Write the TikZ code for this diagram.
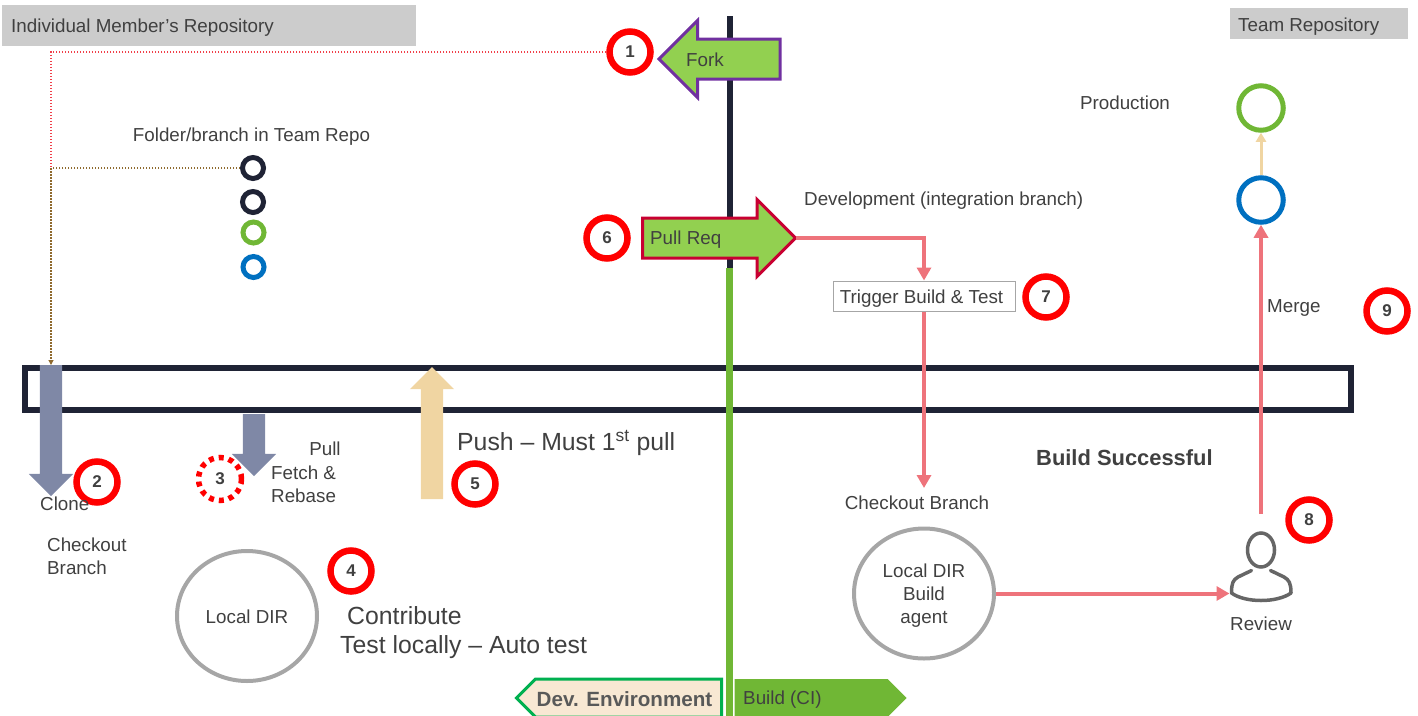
\documentclass[tikz,border=0pt]{standalone}
\usepackage{fontspec}
\setmainfont{Liberation Sans}
\usetikzlibrary{arrows.meta,shapes.arrows,shapes.geometric,shapes.symbols}
\definecolor{inkgrey}{HTML}{404040}
\definecolor{barnavy}{HTML}{1F2335}
\definecolor{ringred}{HTML}{FF0000}
\definecolor{leafgreen}{HTML}{70B735}
\definecolor{limefill}{HTML}{92D050}
\definecolor{teamblue}{HTML}{0070C0}
\definecolor{linkpink}{HTML}{EE737B}
\definecolor{slateblue}{HTML}{7F88A6}
\definecolor{creamtan}{HTML}{F0D5A2}
\definecolor{ringgrey}{HTML}{A6A6A6}
\definecolor{dotbrown}{HTML}{8F6A2E}
\definecolor{dotred}{HTML}{F0404A}
\tikzset{
  txt/.style={font=\fontsize{18.8}{23}\selectfont,text=inkgrey,inner sep=0pt,align=left,yshift=-1.5pt},
  bigtxt/.style={font=\fontsize{24.8}{30}\selectfont,text=inkgrey,inner sep=0pt,yshift=-1.5pt},
  numring/.style={circle,draw=ringred,line width=6.5pt,fill=white,minimum size=41pt,inner sep=0pt,
    font=\fontsize{17}{20}\bfseries\selectfont,text=inkgrey},
  numdash/.style={numring,line width=5.5pt,minimum size=43pt,dash pattern=on 5pt off 5pt},
  folderring/.style={circle,line width=5pt,minimum size=21pt,inner sep=0pt},
  teamring/.style={circle,line width=5pt,minimum size=44.5pt,inner sep=0pt},
  headerbox/.style={fill=black!20,inner sep=0pt},
  fatarrow/.style={single arrow,single arrow head extend=11pt,inner sep=11pt,outer sep=0pt,draw=none,anchor=tail},
  flagarrow/.style={single arrow,single arrow head extend=18.5pt,inner sep=18.5pt,outer sep=0pt,
    fill=limefill,line width=3pt,anchor=tail},
  localdir/.style={ellipse,draw=ringgrey,line width=4pt,minimum width=140pt,minimum height=130pt,
    inner sep=0pt,font=\fontsize{18.8}{23}\selectfont,text=inkgrey,align=center},
  pinkline/.style={draw=linkpink,line width=4pt,-{Triangle[length=13pt,width=14pt]}},
  dotline/.style={line width=1.1pt,dash pattern=on 1.5pt off 1.5pt},
}
\begin{document}
\begin{tikzpicture}[x=1pt,y=-1pt]
  \useasboundingbox (0,0) rectangle (1418,715);
  \node[headerbox,minimum width=414pt,minimum height=41pt] (memberhead) at (209,25.5) {};
  \node[txt,anchor=west] (membertxt) at (11,26) {Individual Member’s Repository};
  \node[headerbox,minimum width=178pt,minimum height=31pt] (teamhead) at (1319,23.5) {};
  \node[txt,anchor=west] (teamtxt) at (1238,25) {Team Repository};

  \node[draw=barnavy,line width=6pt,minimum width=1326pt,minimum height=42pt,inner sep=0pt] (barframe) at (688,389) {};
  \coordinate (midtop) at (729.5,16);
  \coordinate (midswitch) at (729.5,268);
  \coordinate (midend) at (729.5,716);
  \draw[barnavy,line width=6pt] (midtop) -- (midswitch);
  \draw[leafgreen,line width=7pt] (midswitch) -- (midend);

  \node[flagarrow,draw={rgb,255:red,112;green,48;blue,160},shape border rotate=180,minimum height=121pt,minimum width=74pt] (forkarrow) at (780,59) {};
  \node[txt,anchor=west] (forktxt) at (686,58.5) {Fork};
  \node[flagarrow,draw={rgb,255:red,200;green,0;blue,50},minimum height=153pt,minimum width=74pt] (pullreq) at (642.5,238) {};
  \node[txt,anchor=west] (pullreqtxt) at (650,238) {Pull Req};

  \node[numring] (numone) at (630,52) {1};
  \node[numring] (numtwo) at (97,482) {2};
  \node[numdash] (numthree) at (220,479) {3};
  \node[numring] (numfour) at (351,571) {4};
  \node[numring] (numfive) at (475,484) {5};
  \node[numring] (numsix) at (607,238) {6};
  \node[numring] (numseven) at (1046,297) {7};
  \node[numring] (numeight) at (1309,520) {8};
  \node[numring] (numnine) at (1387,311) {9};

  \node[txt] (foldertxt) at (251.5,135) {Folder/branch in Team Repo};
  \node[folderring,draw=barnavy] (foldera) at (253,168) {};
  \node[folderring,draw=barnavy] (folderb) at (253,202) {};
  \node[folderring,draw=leafgreen] (folderc) at (253.5,232.5) {};
  \node[folderring,draw=teamblue] (folderd) at (253.5,267) {};

  \node[fatarrow,fill=slateblue,shape border rotate=270,minimum height=131pt,minimum width=44pt] (clonearrow) at (51,365) {};
  \node[fatarrow,fill=slateblue,shape border rotate=270,minimum height=62pt,minimum width=44pt] (pullarrow) at (254,414) {};
  \node[fatarrow,fill=creamtan,shape border rotate=90,minimum height=132pt,minimum width=44pt] (pusharrow) at (432,499) {};

  \coordinate (dotcorner) at (51,168);
  \draw[dotred,dotline] (numone.west) -| (dotcorner);
  \draw[dotbrown,dotline,-{Triangle[length=5pt,width=5pt]}] (foldera.west) -| (clonearrow.tail);

  \node[txt,anchor=west] (clonetxt) at (40,502.5) {Clone};
  \node[txt,anchor=north west] (checkouttxt) at (47,536.5) {Checkout\\Branch};
  \node[txt] (pulltxt) at (325,447.5) {Pull};
  \node[txt,anchor=north west] (fetchtxt) at (271,464.5) {Fetch \&\\Rebase};
  \node[bigtxt,anchor=west] (pushtxt) at (457,441) {Push – Must 1\textsuperscript{st} pull};
  \node[bigtxt,anchor=west] (contribtxt) at (347,614.5) {Contribute};
  \node[bigtxt,anchor=west] (testtxt) at (340,646) {Test locally – Auto test};
  \node[localdir] (localdev) at (247,616) {\rule{0pt}{16pt}Local DIR};

  \node[txt,anchor=west] (devtxt) at (804,199) {Development (integration branch)};
  \node[draw=ringgrey,line width=1pt,fill=white,minimum width=182pt,minimum height=30pt,inner sep=0pt,txt,yshift=1.5pt] (trigger) at (924,296) {\rule{0pt}{18pt}Trigger Build \& Test\hspace*{5pt}};
  \node[txt] (checkouttwo) at (917,501.5) {Checkout Branch};
  \node[localdir] (localbuild) at (924,593.5) {\rule{0pt}{18pt}Local DIR\\Build\\agent};
  \node[font=\fontsize{21.9}{25}\bfseries\selectfont,text=inkgrey,anchor=west,inner sep=0pt] (successtxt) at (1036,458) {Build Successful};

  \node[minimum width=63pt,minimum height=104pt,inner sep=0pt,outer sep=0pt] (review) at (1261,566) {};
  \draw[black!60,line width=3.5pt] (1261,550) ellipse (13.5 and 17);
  \draw[black!60,line width=3.5pt,line cap=round,line join=round] (1251.5,570.5) -- (1238,577)
    .. controls (1233,580) and (1231.5,583) .. (1231.5,593)
    .. controls (1245,603) and (1277,603) .. (1291,593)
    .. controls (1291,583) and (1289,580) .. (1284,577) -- (1270.5,570.5);
  \node[txt] (reviewtxt) at (1261,622.5) {Review};

  \node[teamring,draw=leafgreen] (prodring) at (1261,108) {};
  \node[teamring,draw=teamblue] (devring) at (1261,200) {};
  \node[txt] (prodtxt) at (1125,101.5) {Production};
  \node[txt,anchor=west] (mergetxt) at (1267,306) {Merge};

  \draw[creamtan,line width=3pt,-{Triangle[length=9pt,width=10pt]}] (devring.north) -- (prodring.south);
  \draw[pinkline] (pullreq.tip) -| (trigger.north);
  \draw[pinkline] (trigger.south) -- (924,488);
  \draw[pinkline] (localbuild.east) -- (localbuild.east -| review.west);
  \draw[pinkline] (review.north) -- (devring.south);

  \node[signal,signal to=west,signal from=nowhere,draw={rgb,255:red,0;green,176;blue,80},line width=3pt,fill={rgb,255:red,248;green,232;blue,211},
    minimum width=205pt,minimum height=38pt,inner sep=0pt] (devenv) at (628.5,698) {};
  \node[font=\fontsize{20.6}{24}\bfseries\selectfont,text=black!65,inner sep=0pt] (devenvtxt) at (624.5,699) {Dev. Environment};
  \node[signal,signal to=east,signal from=nowhere,fill=leafgreen,minimum width=172pt,minimum height=38pt,inner sep=0pt] (buildci) at (811,698) {};
  \node[txt,anchor=west] (buildtxt) at (743,698) {Build (CI)};
\end{tikzpicture}
\end{document}
